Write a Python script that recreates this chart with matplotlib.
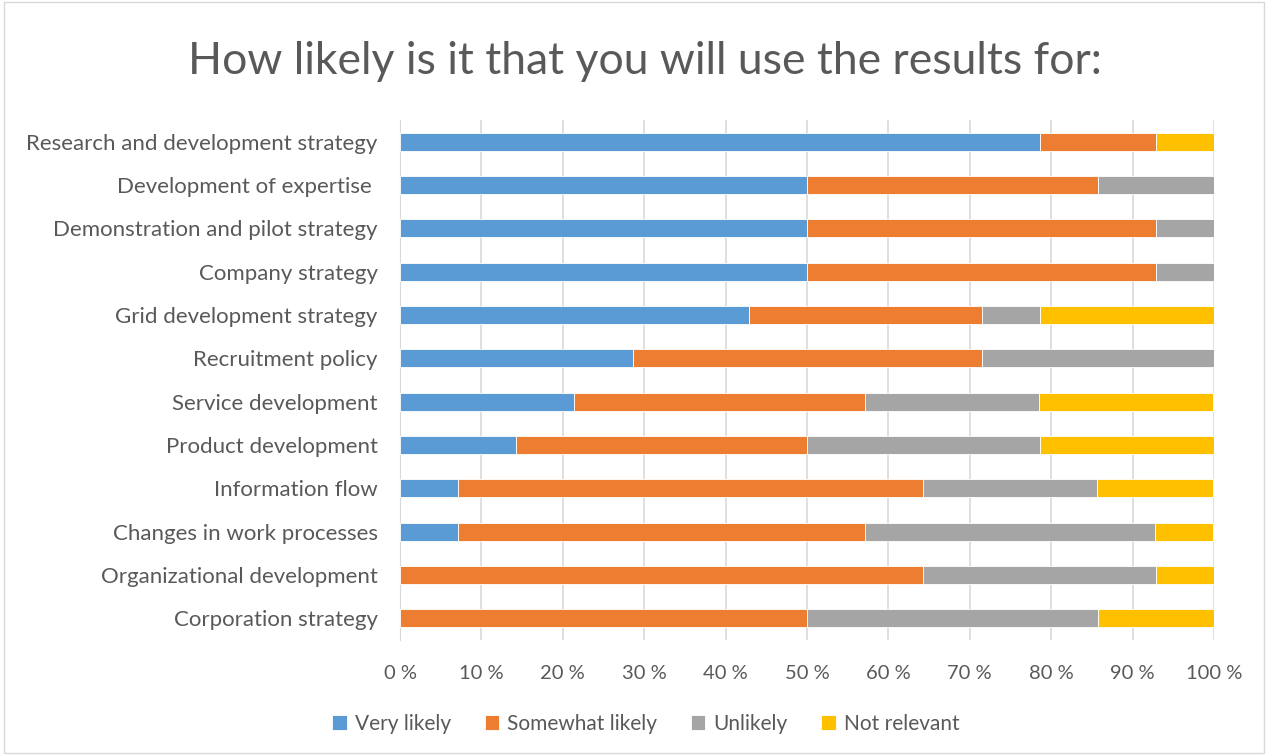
import numpy as np
import matplotlib.pyplot as plt
from matplotlib.patches import Rectangle

categories = [
    "Research and development strategy",
    "Development of expertise ",
    "Demonstration and pilot strategy",
    "Company strategy",
    "Grid development strategy",
    "Recruitment policy",
    "Service development",
    "Product development",
    "Information flow",
    "Changes in work processes",
    "Organizational development",
    "Corporation strategy",
]
series_names = ["Very likely", "Somewhat likely", "Unlikely", "Not relevant"]
very_likely = [78.6, 50.0, 50.0, 50.0, 42.9, 28.6, 21.4, 14.3, 7.1, 7.1, 0.0, 0.0]
somewhat_likely = [14.3, 35.7, 42.9, 42.9, 28.6, 42.9, 35.7, 35.7, 57.1, 50.0, 64.3, 50.0]
unlikely = [0.0, 14.3, 7.1, 7.1, 7.1, 28.6, 21.4, 28.6, 21.4, 35.7, 28.6, 35.7]
not_relevant = [7.1, 0.0, 0.0, 0.0, 21.4, 0.0, 21.4, 21.4, 14.3, 7.1, 7.1, 14.3]
colors = ["#5B9BD5", "#ED7D31", "#A5A5A5", "#FFC000"]

plt.rcParams['font.family'] = ['Lato', 'DejaVu Sans']
text_color = "#595959"

fig = plt.figure(figsize=(12.68, 7.55), dpi=100)
ax = fig.add_axes([400 / 1268, 1 - 640 / 755, 814 / 1268, 520 / 755])

y = np.arange(len(categories))
left = np.zeros(len(categories))
for vals, name, col in zip([very_likely, somewhat_likely, unlikely, not_relevant], series_names, colors):
    vals = np.array(vals)
    ax.barh(y, vals, left=left, height=0.42, color=col, edgecolor="white", linewidth=0.6, label=name, zorder=3)
    left += vals

ax.set_ylim(len(categories) - 0.5, -0.5)
ax.set_xlim(0, 100)
ax.set_xticks(np.arange(0, 101, 10))
ax.set_xticklabels([f"{v} %" for v in range(0, 101, 10)], fontsize=14.5, color=text_color)
ax.set_yticks(y)
ax.set_yticklabels(categories, fontsize=16, color=text_color)
ax.tick_params(axis='both', length=0)
ax.tick_params(axis='x', pad=18)
ax.tick_params(axis='y', pad=16)
ax.grid(axis='x', color="#D9D9D9", linewidth=1.2, zorder=0)
for s in ["top", "right", "bottom"]:
    ax.spines[s].set_visible(False)
ax.spines["left"].set_color("#D9D9D9")

fig.text(645 / 1268, 1 - 62 / 755, "How likely is it that you will use the results for:", ha='center', va='center',
         fontsize=32, color=text_color)

fig.legend(loc='center', bbox_to_anchor=(646 / 1268, 1 - 724 / 755), ncol=4, frameon=False, fontsize=15,
           handlelength=0.7, handleheight=0.7, handletextpad=0.4, columnspacing=1.6,
           labelcolor=text_color)

fig.patches.append(Rectangle((0.003, 0.003), 0.994, 0.994, transform=fig.transFigure,
                             fill=False, edgecolor="#D9D9D9", linewidth=1))

fig.savefig("out.png", dpi=100, facecolor="white")
